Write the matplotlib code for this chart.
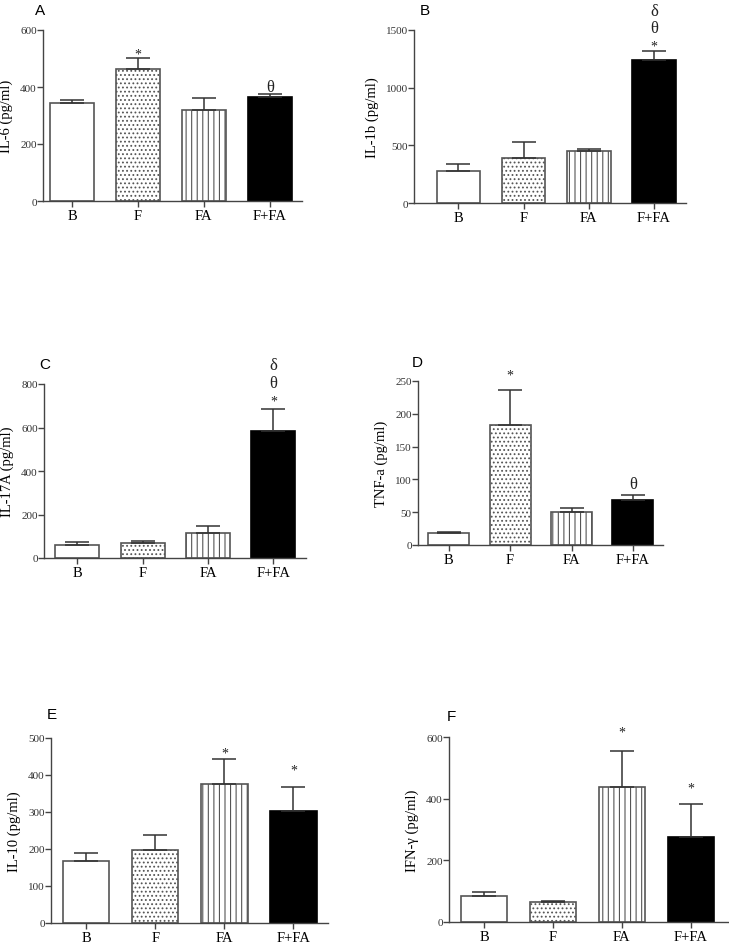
import matplotlib
matplotlib.use("Agg")
import matplotlib.pyplot as plt
import numpy as np

plt.rcParams['hatch.linewidth'] = 0.8
plt.rcParams['hatch.color'] = '#333333'

groups = ["B", "F", "FA", "F+FA"]

il6_mean = [343, 462, 318, 365]
il6_err = [10, 40, 42, 9]
il6_marks = [[], ["*"], [], ["θ"]]

il1b_mean = [280, 390, 450, 1240]
il1b_err = [58, 140, 20, 80]
il1b_marks = [[], [], [], ["*", "θ", "δ"]]

il17_mean = [58, 68, 115, 585]
il17_err = [14, 12, 30, 98]
il17_marks = [[], [], [], ["*", "θ", "δ"]]

tnf_mean = [18, 183, 51, 69]
tnf_err = [2, 53, 6, 7]
tnf_marks = [[], ["*"], [], ["θ"]]

il10_mean = [168, 198, 377, 304]
il10_err = [21, 39, 66, 63]
il10_marks = [[], [], ["*"], ["*"]]

ifn_mean = [85, 65, 437, 275]
ifn_err = [13, 2, 116, 108]
ifn_marks = [[], [], ["*"], ["*"]]

panels = [
    ("A", "IL-6 (pg/ml)", il6_mean, il6_err, il6_marks, 600, [0, 200, 400, 600]),
    ("B", "IL-1b (pg/ml)", il1b_mean, il1b_err, il1b_marks, 1500, [0, 500, 1000, 1500]),
    ("C", "IL-17A (pg/ml)", il17_mean, il17_err, il17_marks, 800, [0, 200, 400, 600, 800]),
    ("D", "TNF-a (pg/ml)", tnf_mean, tnf_err, tnf_marks, 250, [0, 50, 100, 150, 200, 250]),
    ("E", "IL-10 (pg/ml)", il10_mean, il10_err, il10_marks, 500, [0, 100, 200, 300, 400, 500]),
    ("F", "IFN-γ (pg/ml)", ifn_mean, ifn_err, ifn_marks, 600, [0, 200, 400, 600]),
]

# gap (pixels) between error-bar top and centre of each significance mark
mark_gaps = [
    [[], [8], [], [9]],
    [[], [], [], [9, 24, 42]],
    [[], [], [], [13, 28, 46]],
    [[], [19], [], [13]],
    [[], [], [10], [21]],
    [[], [], [24], [20]],
]

W, H = 729, 945
def rect(l, r, t, b):
    return [l / W, 1 - b / H, (r - l) / W, (b - t) / H]

axes_rects = [
    rect(43, 302, 31, 202),
    rect(414, 686, 31, 204),
    rect(44, 306, 385, 559),
    rect(418, 663, 382, 546),
    rect(51, 328, 739, 924),
    rect(449, 728, 738, 923),
]
xlims = [(-0.44, 3.49), (-0.68, 3.49), (-0.51, 3.5), (-0.5, 3.49), (-0.51, 3.5), (-0.51, 3.54)]
letter_pos = [(40, 11), (425, 11), (45, 365), (417, 363), (52, 715), (451, 717)]

fills = ["white", "white", "white", "black"]
hatches = [None, "....", "|||", None]
edge = "#555555"
serif = ["Liberation Serif", "DejaVu Serif"]
mark_size = {"*": 10, "θ": 12, "δ": 12}
mark_center = {"*": 0.56, "θ": 0.34, "δ": 0.36}  # glyph centre above baseline, in em

fig = plt.figure(figsize=(W / 100, H / 100), dpi=100)
px2pt = 72 / 100

for i, (letter, ylabel, mean, err, marks, ymax, yticks) in enumerate(panels):
    ax = fig.add_axes(axes_rects[i])
    x = np.arange(len(groups))
    for j in range(len(groups)):
        ax.bar(x[j], mean[j], width=0.67, color=fills[j], edgecolor=edge if fills[j] == "white" else "black",
               linewidth=1.2, hatch=hatches[j], zorder=2)
    ax.errorbar(x, mean, yerr=[np.zeros(len(err)), err], fmt="none", ecolor="#333333",
                elinewidth=1.1, capsize=8.3, capthick=1.1, zorder=3)
    for j in range(len(groups)):
        top = mean[j] + err[j]
        for k, m in enumerate(marks[j]):
            fs = mark_size[m]
            off = mark_gaps[i][j][k] * px2pt - mark_center[m] * fs
            ax.annotate(m, (x[j], top), xytext=(0, off), textcoords="offset points",
                        ha="center", va="baseline", fontsize=fs, family=serif, color="#222222",
                        annotation_clip=False)
    ax.set_xlim(*xlims[i])
    ax.set_ylim(0, ymax)
    ax.set_yticks(yticks)
    ax.set_xticks(x)
    ax.set_xticklabels(groups, family=serif, fontsize=10.5)
    ax.set_yticklabels([str(t) for t in yticks], family=serif, fontsize=8, color="#333333")
    ax.set_ylabel(ylabel, family=serif, fontsize=10.5, labelpad=5)
    for s in ["top", "right"]:
        ax.spines[s].set_visible(False)
    for s in ["left", "bottom"]:
        ax.spines[s].set_color("#444444")
        ax.spines[s].set_linewidth(1.0)
    ax.tick_params(axis="y", direction="out", length=4, width=1.0, color="#444444", pad=0.5)
    ax.tick_params(axis="x", direction="out", length=4, width=1.0, color="#444444", pad=2)
    ax.set_facecolor("none")
    lx, ly = letter_pos[i]
    fig.text(lx / W, 1 - ly / H, letter, ha="center", va="center",
             family=["Liberation Sans", "DejaVu Sans"], fontsize=11)

fig.savefig("out.png", dpi=100)
